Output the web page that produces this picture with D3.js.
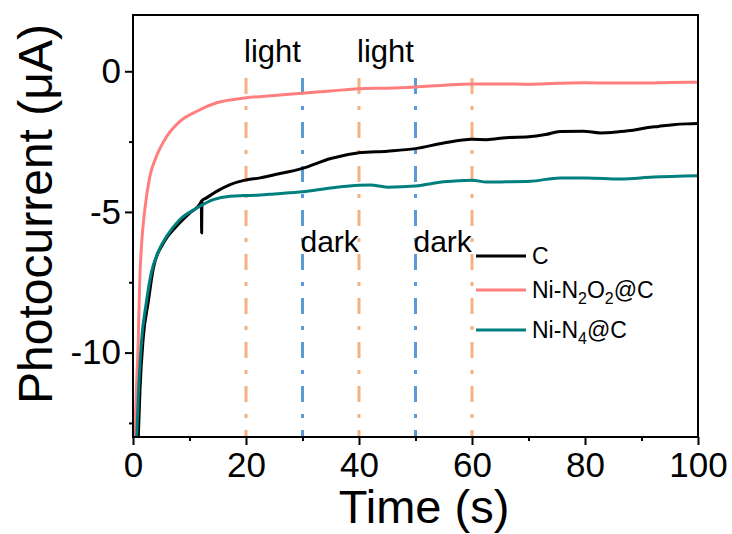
<!DOCTYPE html>
<html>
<head>
<meta charset="utf-8">
<script src="https://cdn.jsdelivr.net/npm/d3@7"></script>
<style>
  html, body { margin: 0; padding: 0; background: #fff; }
  svg { display: block; font-family: "Liberation Sans", Arial, sans-serif; }
</style>
</head>
<body>
<svg id="chart" width="732" height="534"></svg>
<script>
// ---- data ----
const timeC = [0.94, 1.24, 1.8, 2.7, 3.6, 5.4, 7.7, 10.1, 11.9, 12.1, 12.15, 12.2, 13, 14.8, 17.2, 19.8, 22.5, 25, 30, 35, 40, 45, 50, 55, 60, 62.6, 66, 70, 73, 75.6, 79.7, 82.7, 86, 88.5, 90.9, 93, 95.6, 98, 100];
const valC  = [-13, -11.3, -9.5, -8.2, -7.0, -6.1, -5.51, -5.03, -4.7, -4.62, -5.75, -4.6, -4.5, -4.27, -4.03, -3.87, -3.79, -3.68, -3.45, -3.1, -2.9, -2.84, -2.75, -2.55, -2.42, -2.43, -2.36, -2.33, -2.25, -2.14, -2.13, -2.19, -2.15, -2.1, -2.01, -1.96, -1.9, -1.87, -1.86];

const timeNO = [0.3, 0.6, 0.9, 1.2, 1.5, 2.1, 3.0, 4.2, 6.0, 8.3, 11.3, 14.8, 19.8, 25, 30, 35, 40, 45, 50, 55, 60, 65, 70, 75, 80, 85, 90, 95, 100];
const valNO  = [-13, -11.3, -9.8, -7.4, -6.2, -4.9, -3.72, -3.0, -2.31, -1.78, -1.42, -1.12, -0.95, -0.86, -0.78, -0.7, -0.62, -0.6, -0.56, -0.5, -0.45, -0.45, -0.46, -0.43, -0.41, -0.42, -0.42, -0.4, -0.39];

const timeN4 = [0.65, 1.0, 1.5, 2.3, 3.2, 4.5, 6.0, 8.3, 11.3, 14.2, 17.2, 19.8, 22.5, 25, 30, 35, 40, 42, 45, 50, 55, 60, 62.6, 66, 70.3, 75.6, 80.3, 86.2, 92.1, 100];
const valN4  = [-13, -11.3, -9.6, -8.3, -7.2, -6.4, -5.85, -5.27, -4.86, -4.56, -4.44, -4.42, -4.4, -4.36, -4.28, -4.15, -4.05, -4.04, -4.12, -4.08, -3.93, -3.87, -3.94, -3.93, -3.91, -3.79, -3.79, -3.83, -3.76, -3.71];

const seriesNames = ["C", "Ni-N2O2@C", "Ni-N4@C"];
const seriesColors = ["#000000", "#FF7F7F", "#007F7F"];

const xTicks = [0, 20, 40, 60, 80, 100];
const xMinor = [10, 30, 50, 70, 90];
const yTicks = [0, -5, -10];
const yMinor = [-2.5, -7.5, -12.5];

const lightLines = [20, 40, 60];
const darkLines = [30, 50];
const lightLabels = [20, 40];
const darkLabels = [30, 50];

// ---- chart ----
const svg = d3.select("#chart");
const x = d3.scaleLinear().domain([0, 100]).range([133, 698]);
const y = d3.scaleLinear().domain([-13, 2]).range([437, 15]);

// vertical light/dark lines
svg.append("g").selectAll("line").data(lightLines).join("line")
  .attr("x1", d => x(d)).attr("x2", d => x(d))
  .attr("y1", 78).attr("y2", y(-13))
  .attr("stroke", "#F4B183").attr("stroke-width", 3)
  .attr("stroke-dasharray", "16,12,4,12");
svg.append("g").selectAll("line").data(darkLines).join("line")
  .attr("x1", d => x(d)).attr("x2", d => x(d))
  .attr("y1", 78).attr("y2", y(-13))
  .attr("stroke", "#5B9BD5").attr("stroke-width", 3)
  .attr("stroke-dasharray", "16,12,4,12");

// curves
const line = d3.line().x(d => x(d[0])).y(d => y(d[1])).curve(d3.curveMonotoneX);
const data = [
  d3.zip(timeC, valC),
  d3.zip(timeNO, valNO),
  d3.zip(timeN4, valN4)
];
svg.append("defs").append("clipPath").attr("id", "clip")
  .append("rect").attr("x", 133).attr("y", 15).attr("width", 565).attr("height", 422);
svg.append("g").attr("clip-path", "url(#clip)").selectAll("path").data(data).join("path")
  .attr("d", line)
  .attr("fill", "none")
  .attr("stroke", (d, i) => seriesColors[i])
  .attr("stroke-width", 3)
  .attr("stroke-linejoin", "round");

// frame
svg.append("rect").attr("x", 133).attr("y", 15).attr("width", 565).attr("height", 422)
  .attr("fill", "none").attr("stroke", "#000").attr("stroke-width", 2);

// axes
const fmt = d => String(d);
const gx = svg.append("g").attr("transform", `translate(0,${y(-13)})`)
  .call(d3.axisBottom(x).tickValues(xTicks).tickFormat(fmt).tickSize(8).tickPadding(7).tickSizeOuter(0));
const gxm = svg.append("g").attr("transform", `translate(0,${y(-13)})`)
  .call(d3.axisBottom(x).tickValues(xMinor).tickFormat("").tickSize(4).tickSizeOuter(0));
const gy = svg.append("g").attr("transform", `translate(${x(0)},0)`)
  .call(d3.axisLeft(y).tickValues(yTicks).tickFormat(fmt).tickSize(8).tickPadding(4).tickSizeOuter(0));
const gym = svg.append("g").attr("transform", `translate(${x(0)},0)`)
  .call(d3.axisLeft(y).tickValues(yMinor).tickFormat("").tickSize(4).tickSizeOuter(0));
[gxm, gym].forEach(g => g.selectAll(".tick text").remove());
[gx, gxm, gy, gym].forEach(g => {
  g.select(".domain").remove();
  g.selectAll(".tick line").attr("stroke", "#000").attr("stroke-width", 2);
  g.selectAll("text").attr("fill", "#000").style("font-family", '"Liberation Sans", Arial, sans-serif').style("font-size", "35px");
});

// titles
svg.append("text").attr("x", 424).attr("y", 523).attr("text-anchor", "middle")
  .style("font-size", "47px").text("Time (s)");
svg.append("text").attr("transform", "translate(52,214) rotate(-90)").attr("text-anchor", "middle")
  .style("font-size", "48px").text("Photocurrent (\u03BCA)");

// annotations
svg.append("g").selectAll("text").data(lightLabels).join("text")
  .attr("x", d => x(d) - 2).attr("y", 62).style("font-size", "31px").text("light");
svg.append("g").selectAll("text").data(darkLabels).join("text")
  .attr("x", d => x(d) - 2).attr("y", 252).style("font-size", "30px").text("dark");

// legend
const leg = svg.append("g");
const legY = [256, 290, 330];
seriesNames.forEach((name, i) => {
  leg.append("line").attr("x1", 476).attr("x2", 526).attr("y1", legY[i]).attr("y2", legY[i])
    .attr("stroke", seriesColors[i]).attr("stroke-width", 3);
  const t = leg.append("text").attr("x", 532).attr("y", legY[i] + 8).style("font-size", "23px");
  const m = name.match(/^(Ni-N)(\d)(O)(\d)(@C)$/) || name.match(/^(Ni-N)(\d)(@C)$/);
  if (!m) { t.text(name); return; }
  const parts = m.slice(1);
  let sub = false;
  parts.forEach(p => {
    if (/^\d$/.test(p)) {
      t.append("tspan").attr("dy", 6).style("font-size", "16px").text(p);
      sub = true;
    } else {
      const ts = t.append("tspan").text(p);
      if (sub) { ts.attr("dy", -6); sub = false; }
    }
  });
});
</script>
</body>
</html>
